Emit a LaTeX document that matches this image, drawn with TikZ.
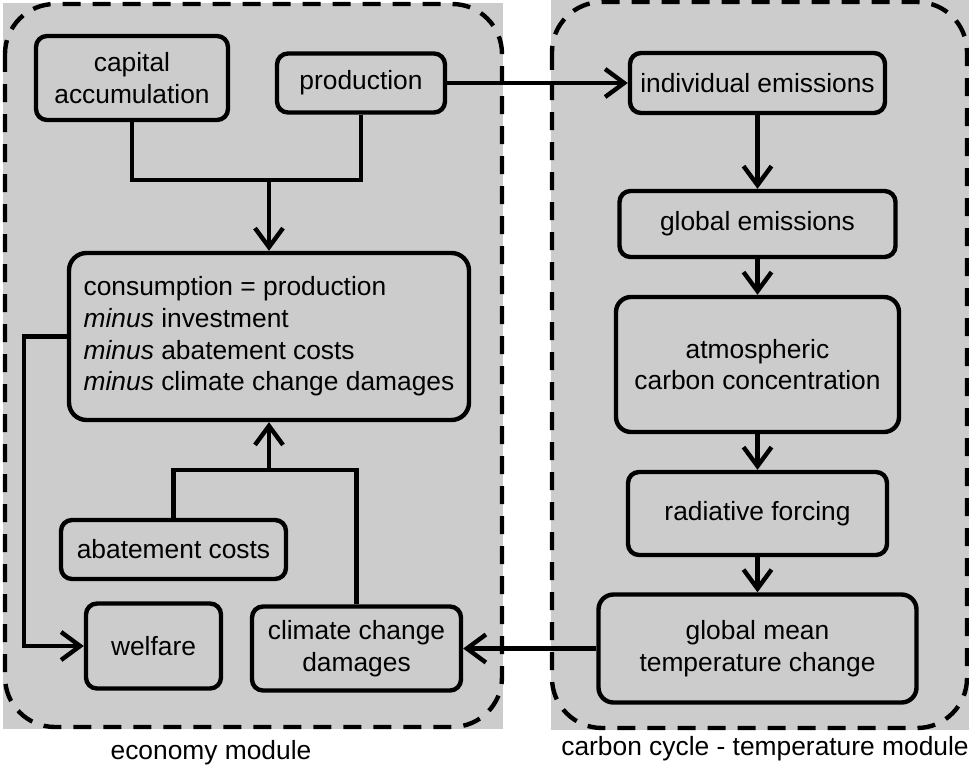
\documentclass[tikz,border=0pt]{standalone}
\usepackage{fontspec}
\setmainfont{Liberation Sans}
\usetikzlibrary{arrows.meta,positioning,calc}
\definecolor{modgray}{gray}{0.8}

\begin{document}
\begin{tikzpicture}[
    box/.style={draw, line width=2.5pt, rounded corners=0.22cm, fill=modgray, inner sep=0pt,
                align=center, font=\fontsize{15}{18}\selectfont},
    link/.style={line width=2.5pt},
    arr/.style={link, -{Straight Barb[length=0.38cm, width=0.56cm]}},
    module/.style={draw, dash pattern=on 0.36cm off 0.24cm, line width=2.5pt, rounded corners=1cm}
]
    \useasboundingbox (0,0) rectangle (19.38,-15.3);

    % Module backgrounds
    \fill[modgray] (0.06,-0.06) rectangle (10.06,-14.58);
    \fill[modgray] (11.02,0) rectangle (19.38,-14.6);
    \draw[module] (0.1,-0.08) rectangle (10.04,-14.54);
    \draw[module] (11.04,-0.04) rectangle (19.34,-14.56);

    % Economy module
    \node[box, minimum width=3.84cm, minimum height=1.68cm] (capital) at (2.64,-1.56) {capital\\accumulation};
    \node[box, minimum width=3.36cm, minimum height=1.18cm] (production) at (7.22,-1.66) {production};
    \node[box, rounded corners=0.35cm, minimum width=8cm, minimum height=3.34cm, align=left]
        (consumption) at (5.38,-6.73) {consumption = production\\\textit{minus} investment\\\textit{minus} abatement costs\\\textit{minus} climate change damages};
    \node[box, minimum width=4.5cm, minimum height=1.18cm] (abatement) at (3.47,-10.99) {abatement costs};
    \node[box, minimum width=2.7cm, minimum height=1.7cm] (welfare) at (3.07,-12.92) {welfare};
    \node[box, minimum width=4.18cm, minimum height=1.68cm] (damages) at (7.13,-12.97) {climate change\\damages};

    % Carbon cycle - temperature module
    \node[box, minimum width=5.1cm, minimum height=1.2cm] (indiv) at (15.15,-1.66) {individual emissions};
    \node[box, minimum width=5.52cm, minimum height=1.32cm] (global) at (15.15,-4.48) {global emissions};
    \node[box, rounded corners=0.3cm, minimum width=5.66cm, minimum height=2.7cm] (atmos) at (15.15,-7.29) {atmospheric\\carbon concentration};
    \node[box, minimum width=5.18cm, minimum height=1.66cm] (forcing) at (15.15,-10.27) {radiative forcing};
    \node[box, rounded corners=0.3cm, minimum width=6.36cm, minimum height=2.16cm] (temp) at (15.15,-12.97) {global mean\\temperature change};

    % Joints
    \coordinate (topjoin) at (5.38,-3.6);
    \coordinate (botjoin) at (5.38,-9.4);
    \coordinate (leftbend) at (0.48,-6.73);

    % Connectors
    \draw[link] (capital.south) |- (topjoin) -| (production.south);
    \draw[arr] (topjoin) -- (consumption.north);
    \draw[link] (abatement.north) |- (botjoin) -| (damages.north);
    \draw[arr] (botjoin) -- (consumption.south);
    \draw[arr] (consumption.west) -- (leftbend) |- (welfare.west);
    \draw[arr] (production.east) -- (indiv.west);
    \draw[arr] (temp.west) -- (damages.east);
    \foreach \a/\b in {indiv/global, global/atmos, atmos/forcing, forcing/temp}
        \draw[arr] (\a.south) -- (\b.north);

    % Module labels
    \node[font=\fontsize{15}{18}\selectfont] (econlabel) at (4.22,-15.06) {economy module};
    \node[font=\fontsize{15}{18}\selectfont] (carblabel) at (15.3,-14.98) {carbon cycle - temperature module};
\end{tikzpicture}
\end{document}
